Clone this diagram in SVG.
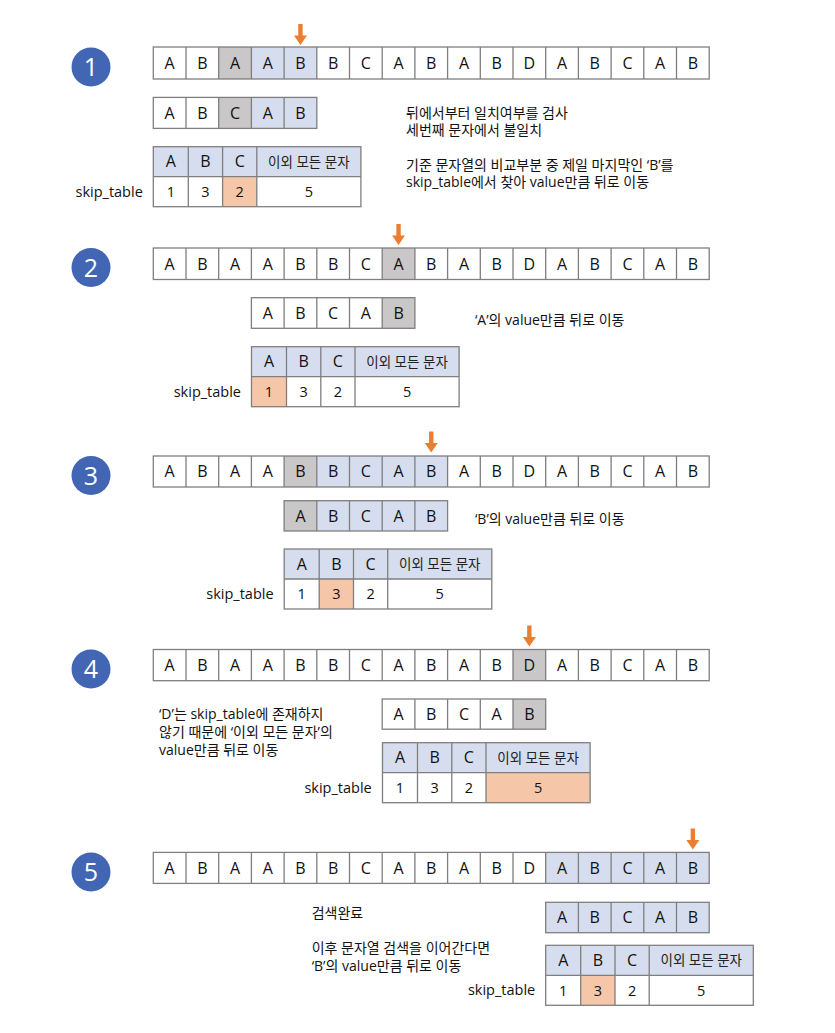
<svg xmlns="http://www.w3.org/2000/svg" xmlns:xlink="http://www.w3.org/1999/xlink" width="835" height="1033" viewBox="0 0 835 1033">
<style>
.bg{fill:#ffffff}
.ol{fill:none;stroke:#7f7f7f;stroke-width:1.3}
.g{fill:#c9c7c7}
.b{fill:#d6ddee}
.o{fill:#f5c7a8}
.L{font-family:'Open Sans','Noto Sans CJK KR',sans-serif;font-size:16px;text-anchor:middle;fill:#111}
.N{font-family:'Open Sans','Noto Sans CJK KR',sans-serif;font-size:14.5px;text-anchor:middle;fill:#111}
.H{font-family:'Open Sans','Noto Sans CJK KR',sans-serif;font-size:13.5px;text-anchor:middle;fill:#222}
.D{font-family:'Open Sans','Noto Sans CJK KR',sans-serif;font-size:14px;fill:#111}
.S{font-family:'Open Sans','Noto Sans CJK KR',sans-serif;font-size:14.5px;text-anchor:end;fill:#111}
.circ{fill:#4266b3}
.num{font-family:'Open Sans','Noto Sans',sans-serif;font-size:25px;text-anchor:middle;fill:#ffffff}
.arr{fill:#ed7d31}
</style>
<defs>
<path id="arrow" d="M-2.2,0H2.2V11.5H6.5L0,21L-6.5,11.5H-2.2Z"/>
</defs>
<rect width="835" height="1033" fill="#ffffff"/>

<!-- step circles -->
<g id="step1"><circle class="circ" cx="91" cy="67" r="19.5"/><text class="num" x="91" y="76">1</text></g>
<g id="step2"><circle class="circ" cx="91" cy="267.5" r="19.5"/><text class="num" x="91" y="276.5">2</text></g>
<g id="step3"><circle class="circ" cx="91" cy="475.5" r="19.5"/><text class="num" x="91" y="484.5">3</text></g>
<g id="step4"><circle class="circ" cx="91" cy="669" r="19.5"/><text class="num" x="91" y="678">4</text></g>
<g id="step5"><circle class="circ" cx="91" cy="872" r="19.5"/><text class="num" x="91" y="881">5</text></g>

<!-- arrows -->
<g id="arrows" class="arr">
<use xlink:href="#arrow" href="#arrow" transform="translate(300.45,24)"/>
<use xlink:href="#arrow" href="#arrow" transform="translate(398.55,224)"/>
<use xlink:href="#arrow" href="#arrow" transform="translate(431.25,431.5)"/>
<use xlink:href="#arrow" href="#arrow" transform="translate(529.35,625.5)"/>
<use xlink:href="#arrow" href="#arrow" transform="translate(692.85,828.5)"/>
</g>

<!-- ===== Step 1 ===== -->
<g id="text1">
<rect class="bg" x="153.3" y="47" width="555.9" height="32"/>
<rect class="g" x="218.7" y="47" width="32.7" height="32"/>
<rect class="b" x="251.4" y="47" width="65.4" height="32"/>
<rect class="ol" x="153.3" y="47" width="555.9" height="32"/>
<path class="ol" d="M186,47v32m32.7,-32v32m32.7,-32v32m32.7,-32v32m32.7,-32v32m32.7,-32v32m32.7,-32v32m32.7,-32v32m32.7,-32v32m32.7,-32v32m32.7,-32v32m32.7,-32v32m32.7,-32v32m32.7,-32v32m32.7,-32v32m32.7,-32v32"/>
<text class="L" x="169.65 202.35 235.05 267.75 300.45 333.15 365.85 398.55 431.25 463.95 496.65 529.35 562.05 594.75 627.45 660.15 692.85" y="68.7">ABAABBCABABDABCAB</text>
</g>
<g id="pattern1">
<rect class="bg" x="153.3" y="97.4" width="163.5" height="31"/>
<rect class="g" x="218.7" y="97.4" width="32.7" height="31"/>
<rect class="b" x="251.4" y="97.4" width="65.4" height="31"/>
<rect class="ol" x="153.3" y="97.4" width="163.5" height="31"/>
<path class="ol" d="M186,97.4v31m32.7,-31v31m32.7,-31v31m32.7,-31v31"/>
<text class="L" x="169.65 202.35 235.05 267.75 300.45" y="118.6">ABCAB</text>
</g>
<g id="table1">
<rect class="b" x="153.3" y="146.7" width="207.6" height="30"/>
<rect class="bg" x="153.3" y="176.7" width="207.6" height="30"/>
<rect class="o" x="222.6" y="176.7" width="34.2" height="30"/>
<rect class="ol" x="153.3" y="146.7" width="207.6" height="60"/>
<path class="ol" d="M153.3,176.7H360.9M188.3,146.7v60M222.6,146.7v60M256.8,146.7v60"/>
<text class="L" x="170.8" y="167.4">A</text><text class="L" x="205.45" y="167.4">B</text><text class="L" x="239.7" y="167.4">C</text>
<text class="H" x="308.85" y="166.5">이외 모든 문자</text>
<text class="N" x="170.8" y="197">1</text><text class="N" x="205.45" y="197">3</text><text class="N" x="239.7" y="197">2</text><text class="N" x="308.85" y="197">5</text>
<text class="S" x="142.8" y="196.5">skip_table</text>
</g>
<g id="desc1" class="D">
<text x="406" y="118">뒤에서부터 일치여부를 검사</text>
<text x="406" y="135">세번째 문자에서 불일치</text>
<text x="406" y="169.5">기준 문자열의 비교부분 중 제일 마지막인 ‘B’를</text>
<text x="406" y="186.7">skip_table에서 찾아 value만큼 뒤로 이동</text>
</g>

<!-- ===== Step 2 ===== -->
<g id="text2">
<rect class="bg" x="153.3" y="248" width="555.9" height="31.5"/>
<rect class="g" x="382.2" y="248" width="32.7" height="31.5"/>
<rect class="ol" x="153.3" y="248" width="555.9" height="31.5"/>
<path class="ol" d="M186,248v31.5m32.7,-31.5v31.5m32.7,-31.5v31.5m32.7,-31.5v31.5m32.7,-31.5v31.5m32.7,-31.5v31.5m32.7,-31.5v31.5m32.7,-31.5v31.5m32.7,-31.5v31.5m32.7,-31.5v31.5m32.7,-31.5v31.5m32.7,-31.5v31.5m32.7,-31.5v31.5m32.7,-31.5v31.5m32.7,-31.5v31.5m32.7,-31.5v31.5"/>
<text class="L" x="169.65 202.35 235.05 267.75 300.45 333.15 365.85 398.55 431.25 463.95 496.65 529.35 562.05 594.75 627.45 660.15 692.85" y="269.5">ABAABBCABABDABCAB</text>
</g>
<g id="pattern2">
<rect class="bg" x="251.4" y="297.7" width="163.5" height="30.6"/>
<rect class="g" x="382.2" y="297.7" width="32.7" height="30.6"/>
<rect class="ol" x="251.4" y="297.7" width="163.5" height="30.6"/>
<path class="ol" d="M284.1,297.7v30.6m32.7,-30.6v30.6m32.7,-30.6v30.6m32.7,-30.6v30.6"/>
<text class="L" x="267.75 300.45 333.15 365.85 398.55" y="318.7">ABCAB</text>
</g>
<g id="table2">
<rect class="b" x="251.5" y="346.7" width="207.6" height="30"/>
<rect class="bg" x="251.5" y="376.7" width="207.6" height="30"/>
<rect class="o" x="251.5" y="376.7" width="35" height="30"/>
<rect class="ol" x="251.5" y="346.7" width="207.6" height="60"/>
<path class="ol" d="M251.5,376.7H459.1M286.5,346.7v60M320.8,346.7v60M355,346.7v60"/>
<text class="L" x="269" y="367.4">A</text><text class="L" x="303.65" y="367.4">B</text><text class="L" x="337.9" y="367.4">C</text>
<text class="H" x="407.05" y="366.5">이외 모든 문자</text>
<text class="N" x="269" y="397">1</text><text class="N" x="303.65" y="397">3</text><text class="N" x="337.9" y="397">2</text><text class="N" x="407.05" y="397">5</text>
<text class="S" x="241" y="396.5">skip_table</text>
</g>
<g id="desc2" class="D">
<text x="475" y="325">‘A’의 value만큼 뒤로 이동</text>
</g>

<!-- ===== Step 3 ===== -->
<g id="text3">
<rect class="bg" x="153.3" y="456" width="555.9" height="31"/>
<rect class="g" x="284.1" y="456" width="32.7" height="31"/>
<rect class="b" x="316.8" y="456" width="130.8" height="31"/>
<rect class="ol" x="153.3" y="456" width="555.9" height="31"/>
<path class="ol" d="M186,456v31m32.7,-31v31m32.7,-31v31m32.7,-31v31m32.7,-31v31m32.7,-31v31m32.7,-31v31m32.7,-31v31m32.7,-31v31m32.7,-31v31m32.7,-31v31m32.7,-31v31m32.7,-31v31m32.7,-31v31m32.7,-31v31m32.7,-31v31"/>
<text class="L" x="169.65 202.35 235.05 267.75 300.45 333.15 365.85 398.55 431.25 463.95 496.65 529.35 562.05 594.75 627.45 660.15 692.85" y="477.2">ABAABBCABABDABCAB</text>
</g>
<g id="pattern3">
<rect class="bg" x="284.1" y="500.7" width="163.5" height="30.3"/>
<rect class="g" x="284.1" y="500.7" width="32.7" height="30.3"/>
<rect class="b" x="316.8" y="500.7" width="130.8" height="30.3"/>
<rect class="ol" x="284.1" y="500.7" width="163.5" height="30.3"/>
<path class="ol" d="M316.8,500.7v30.3m32.7,-30.3v30.3m32.7,-30.3v30.3m32.7,-30.3v30.3"/>
<text class="L" x="300.45 333.15 365.85 398.55 431.25" y="521.5">ABCAB</text>
</g>
<g id="table3">
<rect class="b" x="284.2" y="549" width="207.6" height="30"/>
<rect class="bg" x="284.2" y="579" width="207.6" height="30"/>
<rect class="o" x="319.2" y="579" width="34.3" height="30"/>
<rect class="ol" x="284.2" y="549" width="207.6" height="60"/>
<path class="ol" d="M284.2,579H491.8M319.2,549v60M353.5,549v60M387.7,549v60"/>
<text class="L" x="301.7" y="569.7">A</text><text class="L" x="336.35" y="569.7">B</text><text class="L" x="370.6" y="569.7">C</text>
<text class="H" x="439.75" y="568.8">이외 모든 문자</text>
<text class="N" x="301.7" y="599.3">1</text><text class="N" x="336.35" y="599.3">3</text><text class="N" x="370.6" y="599.3">2</text><text class="N" x="439.75" y="599.3">5</text>
<text class="S" x="273.6" y="599">skip_table</text>
</g>
<g id="desc3" class="D">
<text x="475" y="524">‘B’의 value만큼 뒤로 이동</text>
</g>

<!-- ===== Step 4 ===== -->
<g id="text4">
<rect class="bg" x="153.3" y="649.5" width="555.9" height="31.2"/>
<rect class="g" x="513" y="649.5" width="32.7" height="31.2"/>
<rect class="ol" x="153.3" y="649.5" width="555.9" height="31.2"/>
<path class="ol" d="M186,649.5v31.2m32.7,-31.2v31.2m32.7,-31.2v31.2m32.7,-31.2v31.2m32.7,-31.2v31.2m32.7,-31.2v31.2m32.7,-31.2v31.2m32.7,-31.2v31.2m32.7,-31.2v31.2m32.7,-31.2v31.2m32.7,-31.2v31.2m32.7,-31.2v31.2m32.7,-31.2v31.2m32.7,-31.2v31.2m32.7,-31.2v31.2m32.7,-31.2v31.2"/>
<text class="L" x="169.65 202.35 235.05 267.75 300.45 333.15 365.85 398.55 431.25 463.95 496.65 529.35 562.05 594.75 627.45 660.15 692.85" y="670.8">ABAABBCABABDABCAB</text>
</g>
<g id="pattern4">
<rect class="bg" x="382.2" y="699" width="163.5" height="30.2"/>
<rect class="g" x="513" y="699" width="32.7" height="30.2"/>
<rect class="ol" x="382.2" y="699" width="163.5" height="30.2"/>
<path class="ol" d="M414.9,699v30.2m32.7,-30.2v30.2m32.7,-30.2v30.2m32.7,-30.2v30.2"/>
<text class="L" x="398.55 431.25 463.95 496.65 529.35" y="719.8">ABCAB</text>
</g>
<g id="table4">
<rect class="b" x="382.5" y="742.7" width="207.6" height="30"/>
<rect class="bg" x="382.5" y="772.7" width="207.6" height="30"/>
<rect class="o" x="486" y="772.7" width="104.1" height="30"/>
<rect class="ol" x="382.5" y="742.7" width="207.6" height="60"/>
<path class="ol" d="M382.5,772.7H590.1M417.5,742.7v60M451.8,742.7v60M486,742.7v60"/>
<text class="L" x="400" y="763.4">A</text><text class="L" x="434.65" y="763.4">B</text><text class="L" x="468.9" y="763.4">C</text>
<text class="H" x="538.05" y="762.5">이외 모든 문자</text>
<text class="N" x="400" y="793">1</text><text class="N" x="434.65" y="793">3</text><text class="N" x="468.9" y="793">2</text><text class="N" x="538.05" y="793">5</text>
<text class="S" x="371.7" y="792.5">skip_table</text>
</g>
<g id="desc4" class="D">
<text x="159" y="719">‘D’는 skip_table에 존재하지</text>
<text x="159" y="737">않기 때문에 ‘이외 모든 문자’의</text>
<text x="159" y="754.5">value만큼 뒤로 이동</text>
</g>

<!-- ===== Step 5 ===== -->
<g id="text5">
<rect class="bg" x="153.3" y="852.4" width="555.9" height="31"/>
<rect class="b" x="545.7" y="852.4" width="163.5" height="31"/>
<rect class="ol" x="153.3" y="852.4" width="555.9" height="31"/>
<path class="ol" d="M186,852.4v31m32.7,-31v31m32.7,-31v31m32.7,-31v31m32.7,-31v31m32.7,-31v31m32.7,-31v31m32.7,-31v31m32.7,-31v31m32.7,-31v31m32.7,-31v31m32.7,-31v31m32.7,-31v31m32.7,-31v31m32.7,-31v31m32.7,-31v31"/>
<text class="L" x="169.65 202.35 235.05 267.75 300.45 333.15 365.85 398.55 431.25 463.95 496.65 529.35 562.05 594.75 627.45 660.15 692.85" y="873.6">ABAABBCABABDABCAB</text>
</g>
<g id="pattern5">
<rect class="b" x="545.7" y="902.3" width="163.5" height="30.4"/>
<rect class="ol" x="545.7" y="902.3" width="163.5" height="30.4"/>
<path class="ol" d="M578.4,902.3v30.4m32.7,-30.4v30.4m32.7,-30.4v30.4m32.7,-30.4v30.4"/>
<text class="L" x="562.05 594.75 627.45 660.15 692.85" y="923.2">ABCAB</text>
</g>
<g id="table5">
<rect class="b" x="545.7" y="945.3" width="207.6" height="30"/>
<rect class="bg" x="545.7" y="975.3" width="207.6" height="30"/>
<rect class="o" x="580.7" y="975.3" width="34.3" height="30"/>
<rect class="ol" x="545.7" y="945.3" width="207.6" height="60"/>
<path class="ol" d="M545.7,975.3H753.3M580.7,945.3v60M615,945.3v60M649.2,945.3v60"/>
<text class="L" x="563.2" y="966">A</text><text class="L" x="597.85" y="966">B</text><text class="L" x="632.1" y="966">C</text>
<text class="H" x="701.25" y="965.1">이외 모든 문자</text>
<text class="N" x="563.2" y="995.6">1</text><text class="N" x="597.85" y="995.6">3</text><text class="N" x="632.1" y="995.6">2</text><text class="N" x="701.25" y="995.6">5</text>
<text class="S" x="535.2" y="995">skip_table</text>
</g>
<g id="desc5" class="D">
<text x="311.7" y="918">검색완료</text>
<text x="311.7" y="952.5">이후 문자열 검색을 이어간다면</text>
<text x="311.7" y="970.5">‘B’의 value만큼 뒤로 이동</text>
</g>
</svg>
